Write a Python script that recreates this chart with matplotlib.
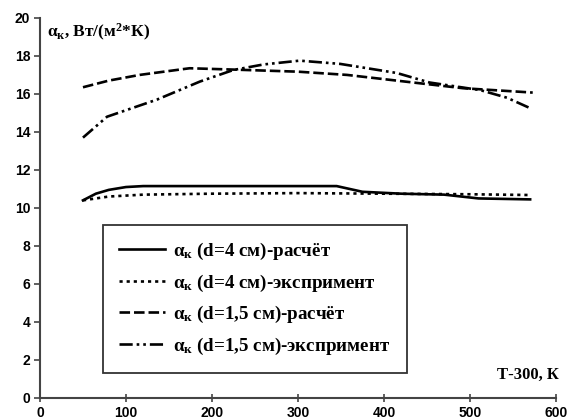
import matplotlib
matplotlib.use('Agg')
import matplotlib.pyplot as plt
import numpy as np

plt.rcParams['mathtext.fontset'] = 'custom'
plt.rcParams['mathtext.rm'] = 'Liberation Serif:bold'
plt.rcParams['mathtext.it'] = 'Liberation Serif:bold'
plt.rcParams['mathtext.bf'] = 'Liberation Serif:bold'

# d=4 cm, calculation
t_calc4 = [50, 65, 80, 100, 120, 200, 300, 345, 375, 420, 470, 510, 570]
a_calc4 = [10.4, 10.75, 10.95, 11.1, 11.15, 11.15, 11.15, 11.15, 10.85, 10.75, 10.7, 10.5, 10.45]
# d=4 cm, experiment
t_exp4 = [50, 80, 120, 200, 300, 400, 500, 570]
a_exp4 = [10.4, 10.6, 10.7, 10.75, 10.78, 10.75, 10.72, 10.68]
# d=1.5 cm, calculation
t_calc15 = [50, 80, 116, 174, 225, 300, 357, 434, 492, 573]
a_calc15 = [16.35, 16.7, 17.0, 17.35, 17.28, 17.17, 17.0, 16.6, 16.3, 16.07]
# d=1.5 cm, experiment
t_exp15 = [50, 78, 136, 186, 225, 260, 302, 349, 415, 453, 512, 543, 570]
a_exp15 = [13.7, 14.8, 15.7, 16.65, 17.26, 17.55, 17.75, 17.58, 17.1, 16.6, 16.2, 15.8, 15.25]

labels = ['$\\alpha_{к}$ (d=4 см)-расчёт',
          '$\\alpha_{к}$ (d=4 см)-экспримент',
          '$\\alpha_{к}$ (d=1,5 см)-расчёт',
          '$\\alpha_{к}$ (d=1,5 см)-экспримент']

fig = plt.figure(figsize=(5.67, 4.2), dpi=100)
ax = fig.add_axes([0.0705, 0.0524, 0.91, 0.905])

lw = 1.9
ax.plot(t_calc4, a_calc4, color='black', lw=lw, ls='-', label=labels[0])
ax.plot(t_exp4, a_exp4, color='black', lw=lw, ls=(0, (1.2, 1.5)), label=labels[1])
ax.plot(t_calc15, a_calc15, color='black', lw=lw, ls=(0, (4, 1.5)), label=labels[2])
ax.plot(t_exp15, a_exp15, color='black', lw=lw, ls=(0, (5, 1.5, 1, 1.5, 1, 1.5)), label=labels[3])

ax.set_xlim(0, 600)
ax.set_ylim(0, 20)
ax.set_xticks(np.arange(0, 601, 100))
ax.set_yticks(np.arange(0, 21, 2))
for s in ['top', 'right']:
    ax.spines[s].set_visible(False)
for s in ['left', 'bottom']:
    ax.spines[s].set_color('#444444')
    ax.spines[s].set_linewidth(1.5)
ax.tick_params(axis='y', direction='out', length=4, width=1.2, colors='#444444', labelcolor='black', pad=3)
ax.tick_params(axis='x', direction='inout', length=6, width=1.2, colors='#444444', labelcolor='black', pad=3)
for lab in ax.get_xticklabels() + ax.get_yticklabels():
    lab.set_family('Liberation Sans')
    lab.set_fontweight('bold')
    lab.set_fontsize(10)

ax.text(0.014, 0.99, '$\\alpha_{к}$, Вт/(м$^{2}$*К)', transform=ax.transAxes,
        fontsize=12.5, family='Liberation Serif', fontweight='bold', va='top', ha='left')
ax.text(1.005, 0.04, 'Т-300, К', transform=ax.transAxes,
        fontsize=12, family='Liberation Serif', fontweight='bold', va='bottom', ha='right')

leg = ax.legend(loc='lower left', bbox_to_anchor=(0.122, 0.066), fancybox=False,
                frameon=True, edgecolor='black', handlelength=2.4, handletextpad=0.45,
                borderpad=0.85, labelspacing=0.55, borderaxespad=0,
                prop={'family': 'Liberation Serif', 'weight': 'bold', 'size': 13.7})
leg.get_frame().set_linewidth(1.3)

fig.savefig('out.png', dpi=100)
